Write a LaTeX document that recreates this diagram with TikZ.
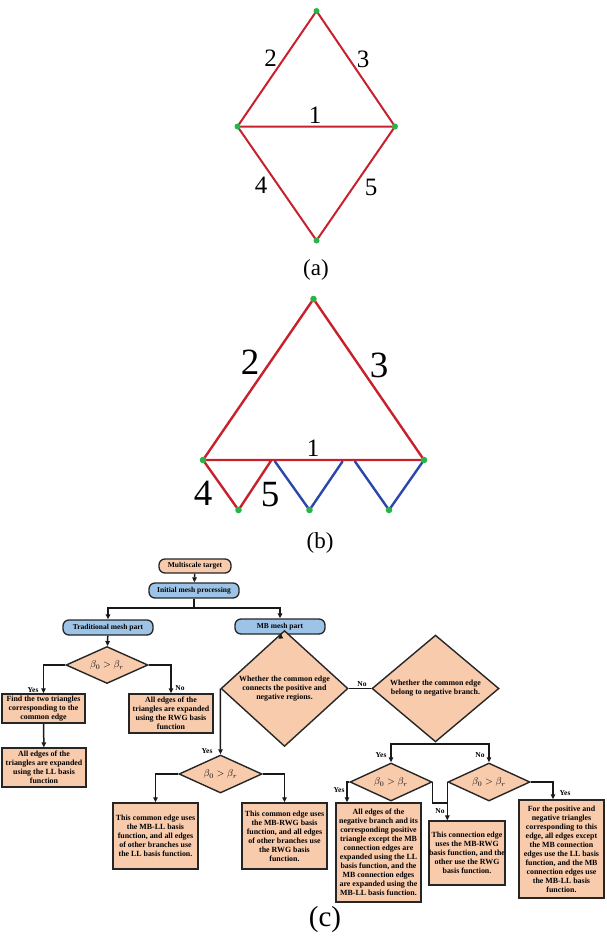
\documentclass[tikz,border=0pt]{standalone}
\usepackage{fontspec}
\setmainfont{Liberation Serif}
\usetikzlibrary{arrows.meta,shapes.geometric}
\definecolor{tri}{RGB}{200,32,44}
\definecolor{trib}{RGB}{42,72,170}
\definecolor{dotg}{RGB}{40,180,70}
\definecolor{peach}{RGB}{248,203,173}
\definecolor{lblue}{RGB}{157,195,230}
\begin{document}
\begin{tikzpicture}[x=1pt,y=-1pt,
  redge/.style={draw=tri, line width=2pt, line cap=round},
  bedge/.style={draw=trib, line width=2.4pt, line cap=round},
  num/.style={font=\fontsize{25}{25}\selectfont, inner sep=0},
  bignum/.style={font=\fontsize{37}{37}\selectfont, inner sep=0},
  figcap/.style={font=\fontsize{23}{23}\selectfont, inner sep=0},
  fc/.style={line width=1.5pt, draw=black!90},
  arr/.style={fc, -{Triangle[length=5pt,width=4.5pt]}},
  rbox/.style={rectangle, rounded corners=6pt, draw=black!85, line width=1.3pt, font=\fontsize{7.5}{8}\bfseries\selectfont, inner sep=0},
  pbox/.style={rectangle, draw=black!85, line width=1.4pt, fill=peach, font=\fontsize{7.9}{9}\bfseries\selectfont, align=center, inner sep=0},
  dia/.style={diamond, draw=black!85, line width=1.4pt, fill=peach, inner sep=0, align=center, font=\fontsize{7.9}{9}\bfseries\selectfont},
  cmp/.style={font=\fontsize{10}{10}\selectfont},
  yn/.style={font=\fontsize{7.5}{8}\bfseries\selectfont, inner sep=0}
]
\useasboundingbox (0,0) rectangle (606,937);

% ---------- (a)
\coordinate (a1) at (316.5,11);
\coordinate (a2) at (237.5,126.5);
\coordinate (a3) at (395,126.5);
\coordinate (a4) at (316.5,240.5);
\draw[redge] (a2) -- (a1) -- (a3) -- (a4) -- (a2) -- (a3);
\foreach \p in {a1,a2,a3,a4} \fill[dotg] (\p) circle (3pt);
\node[num] (la2) at (270.5,58) {2};
\node[num] (la3) at (363,59) {3};
\node[num] (la1) at (315,115) {1};
\node[num] (la4) at (261,185) {4};
\node[num] (la5) at (371,187) {5};
\node[figcap] (capa) at (316,270) {(a)};

% ---------- (b)
\coordinate (b1) at (313.5,299);
\coordinate (b2) at (203,460);
\coordinate (b3) at (424,460);
\coordinate (c1) at (238.5,510);
\coordinate (c2) at (309.5,510);
\coordinate (c3) at (389,510);
\coordinate (m1) at (271.5,460);
\coordinate (m2) at (275,461.5);
\coordinate (m3) at (342.5,461.5);
\coordinate (m4) at (355,461.5);
\draw[bedge] (m2) -- (c2) -- (m3);
\draw[bedge] (m4) -- (c3) -- (b3);
\draw[redge, line width=2.4pt] (b2) -- (b1) -- (b3) -- (b2) -- (c1) -- (m1);
\foreach \p in {b1,b2,b3,c1,c2,c3} \fill[dotg] (\p) circle (3.3pt);
\node[bignum] (lb2) at (250,362) {2};
\node[bignum] (lb3) at (379,365) {3};
\node[num] (lb1) at (313,448) {1};
\node[bignum] (lb4) at (203,493) {4};
\node[bignum] (lb5) at (270,495) {5};
\node[figcap] (capb) at (320,543) {(b)};

% ---------- (c) flowchart
\node[rbox, fill=peach, minimum width=72pt, minimum height=14pt] (mt) at (195,566) {Multiscale target};
\node[rbox, fill=lblue, minimum width=90pt, minimum height=15pt] (imp) at (194,590.5) {Initial mesh processing};
\node[rbox, fill=lblue, minimum width=90pt, minimum height=15pt] (tmp) at (108,627.5) {Traditional mesh part};
\node[rbox, fill=lblue, minimum width=90pt, minimum height=15pt] (mbp) at (280,626.5) {MB mesh part};

\node[dia, minimum width=82pt, minimum height=37pt] (d1) at (107,665) {};
\node[cmp] at (d1) {$\beta_0>\beta_r$};
\node[pbox, minimum width=83pt, minimum height=29pt] (n1) at (43.5,708.5) {Find the two triangles\\corresponding to the\\common edge};
\node[pbox, minimum width=84pt, minimum height=39pt] (n2) at (44,767.5) {All edges of the\\triangles are expanded\\using the LL basis\\function};
\node[pbox, minimum width=84pt, minimum height=39pt] (n3) at (171,713.5) {All edges of the\\triangles are expanded\\using the RWG basis\\function};

\node[dia, minimum width=127pt, minimum height=89pt] (d2) at (284.5,688.5) {Whether the common edge\\connects the positive and\\negative regions.};
\node[dia, minimum width=127pt, minimum height=89pt] (d3) at (435.5,688.5) {Whether the common edge\\belong to negative branch.};

\node[dia, minimum width=83pt, minimum height=38pt] (d6) at (220.5,774) {};
\node[cmp] at (d6) {$\beta_0>\beta_r$};
\node[pbox, minimum width=85pt, minimum height=66pt] (n4) at (155.5,836) {This common edge uses\\the MB-LL basis\\function, and all edges\\of other branches use\\the LL basis function.};
\node[pbox, minimum width=85pt, minimum height=66pt] (n5) at (284.5,836) {This common edge uses\\the MB-RWG basis\\function, and all edges\\of other branches use\\the RWG basis\\function.};

\node[dia, minimum width=82pt, minimum height=38pt] (d4) at (391,782) {};
\node[cmp] at (d4) {$\beta_0>\beta_r$};
\node[dia, minimum width=82pt, minimum height=38pt] (d5) at (489,782) {};
\node[cmp] at (d5) {$\beta_0>\beta_r$};

\node[pbox, minimum width=85pt, minimum height=99pt] (n6) at (378.5,852.5) {All edges of the\\negative branch and its\\corresponding positive\\triangle except the MB\\connection edges are\\expanded using the LL\\basis function, and the\\MB connection edges\\are expanded using the\\MB-LL basis function.};
\node[pbox, minimum width=74pt, minimum height=64pt] (n7) at (467,853) {This connection  edge\\uses the MB-RWG\\basis function, and the\\other use the RWG\\basis function.};
\node[pbox, minimum width=85pt, minimum height=98pt] (n8) at (561.5,849) {For the positive and\\negative triangles\\corresponding to this\\edge, all edges except\\the MB connection\\edges use the LL basis\\function, and the MB\\connection edges use\\the MB-LL basis\\function.};

\node[font=\fontsize{29}{29}\selectfont, inner sep=0] (capc) at (325,920) {(c)};

% connectors
\draw[arr] (mt) -- (imp);
\coordinate (s1) at (194,608);
\draw[fc] (imp.south) -- (s1);
\draw[arr] (s1) -| (tmp.north);
\draw[arr] (s1) -| (mbp.north);
\draw[arr] (tmp) -- (d1);
\draw[arr] (d1.west) -| (n1.north);
\draw[arr] (d1.east) -| (n3.north);
\draw[arr] (n1) -- (n2);
\node[yn] (y1) at (33,690) {Yes};
\node[yn] (no1) at (180,688) {No};

\draw[arr] (mbp) -- (d2);
\draw[fc] (d2.east) -- (d3.west);
\node[yn] (no2) at (362,684) {No};
\draw[arr] (d2.west) -- (d6.north);
\node[yn] (y2) at (207,751) {Yes};
\draw[arr] (d6.west) -| (n4.north);
\draw[arr] (d6.east) -| (n5.north);

\coordinate (s3) at (435.5,744);
\draw[fc] (d3.south) -- (s3);
\draw[arr] (s3) -| (d4.north);
\draw[arr] (s3) -| (d5.north);
\node[yn] (y3) at (381,755) {Yes};
\node[yn] (no3) at (480,755) {No};

\coordinate (j) at (448,803);
\draw[arr] (d4.west) -| (n6.north -| 347,0);
\node[yn] (y4) at (339,790) {Yes};
\draw[fc] (d4.east) |- (j);
\draw[arr] (d5.west) -- (d5.west |- n7.north);
\node[yn] (no4) at (440,811) {No};
\draw[arr] (d5.east) -| (n8.north -| 553,0);
\node[yn] (y5) at (565,793) {Yes};
\end{tikzpicture}
\end{document}
